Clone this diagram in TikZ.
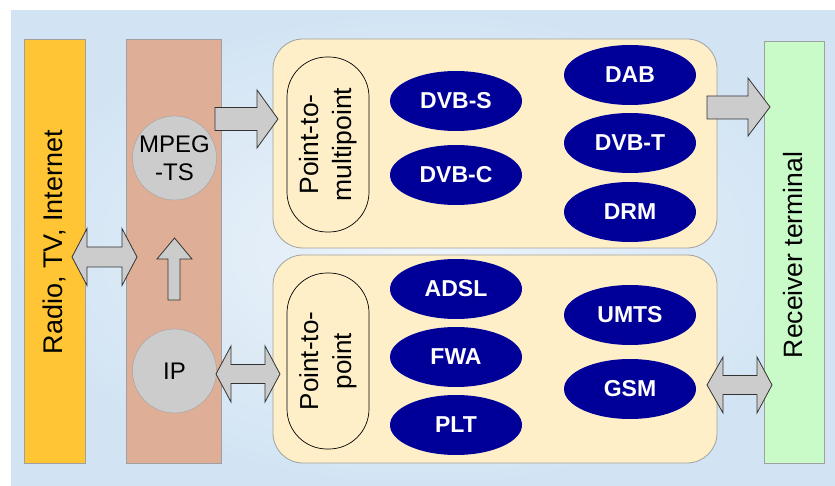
\documentclass[tikz,border=0pt]{standalone}
\usepackage{fontspec}
\setmainfont{Liberation Sans}
\usetikzlibrary{shapes.geometric}
\definecolor{bgout}{HTML}{D2E4F4}
\definecolor{bgin}{HTML}{EEF4FA}
\definecolor{barY}{HTML}{FFC535}
\definecolor{barB}{HTML}{DFAE96}
\definecolor{barG}{HTML}{C8FBC8}
\definecolor{panel}{HTML}{FEEFC8}
\definecolor{navy}{HTML}{000099}
\definecolor{greyc}{HTML}{CCCCCC}
\definecolor{edge}{HTML}{A0A0A0}
\tikzset{
  bar/.style={draw=edge, line width=0.8pt},
  panelbox/.style={draw=edge, fill=panel, line width=0.8pt, rounded corners=30pt},
  pill/.style={draw=black, line width=0.7pt, rounded corners=40pt},
  techell/.style={ellipse, fill=navy, minimum width=132pt, minimum height=60pt, inner sep=0pt,
    text=white, font=\fontsize{23}{26}\selectfont\bfseries},
  proto/.style={circle, draw=edge, fill=greyc, minimum size=84pt, inner sep=0pt,
    font=\fontsize{24}{30}\selectfont, align=center},
  blockarrow/.style={draw=black!80, fill=greyc, line width=0.8pt, line join=miter},
  vlabel/.style={rotate=90, font=\fontsize{27}{32}\selectfont, align=center}
}
\begin{document}
\begin{tikzpicture}[x=1pt, y=-1pt]
\useasboundingbox (0,0) rectangle (835,486);
\fill[white] (0,0) rectangle (835,486);
\shade[inner color=bgin, outer color=bgout] (11,11) rectangle (835,486);

% side bars
\draw[bar, fill=barY] (24,39) rectangle (85,463);
\draw[bar, fill=barB] (126,39) rectangle (221,463);
\draw[bar, fill=barG] (764,41) rectangle (824,463);
\node[vlabel] (radio) at (54.5,242) {Radio, TV, Internet};
\node[vlabel, font=\fontsize{26.5}{32}\selectfont] (recv) at (793,255) {Receiver terminal};

% panels
\draw[panelbox] (273,39) rectangle (717,248);
\draw[panelbox] (273,255) rectangle (717,463);

% pills
\draw[pill] (287,57) rectangle (369,232);
\node[vlabel, font=\fontsize{26.5}{33}\selectfont] (p2m) at (328,144.5) {Point-to-\\multipoint};
\draw[pill] (287,273) rectangle (369,449);
\node[vlabel, font=\fontsize{26}{33}\selectfont] (p2p) at (328,361) {Point-to-\\point};

% technologies
\node[techell] (dvbs) at (456,101) {DVB-S};
\node[techell] (dvbc) at (456,175) {DVB-C};
\node[techell] (dab)  at (630,75) {DAB};
\node[techell] (dvbt) at (630,143) {DVB-T};
\node[techell] (drm)  at (630,212) {DRM};
\node[techell] (adsl) at (456,289) {ADSL};
\node[techell] (fwa)  at (456,357) {FWA};
\node[techell] (plt)  at (456,425) {PLT};
\node[techell] (umts) at (630,315) {UMTS};
\node[techell] (gsm)  at (630,389) {GSM};

% protocol circles
\node[proto] (mpeg) at (174.5,158) {MPEG\\[-2pt]-TS};
\node[proto] (ip) at (174.5,371) {IP};

% block arrows
\draw[blockarrow] (215,107.5) -- (257,107.5) -- (257,90) -- (278,119) -- (257,148) -- (257,130.5) -- (215,130.5) -- cycle;
\draw[blockarrow] (707,96) -- (748,96) -- (748,78) -- (770,107) -- (748,136) -- (748,119) -- (707,119) -- cycle;
\draw[blockarrow] (168,300) -- (168,259) -- (157,259) -- (174.5,238) -- (192,259) -- (180,259) -- (180,300) -- cycle;
\draw[blockarrow] (72,257) -- (87,228.5) -- (87,247) -- (122,247) -- (122,228.5) -- (137,257) -- (122,285.5) -- (122,267) -- (87,267) -- (87,285.5) -- cycle;
\draw[blockarrow] (216,374) -- (231,346) -- (231,364.5) -- (265,364.5) -- (265,346) -- (280,374) -- (265,402) -- (265,383.5) -- (231,383.5) -- (231,402) -- cycle;
\draw[blockarrow] (707,385) -- (723,357) -- (723,375.5) -- (757,375.5) -- (757,357) -- (772,385) -- (757,413) -- (757,394.5) -- (723,394.5) -- (723,413) -- cycle;
\end{tikzpicture}
\end{document}
